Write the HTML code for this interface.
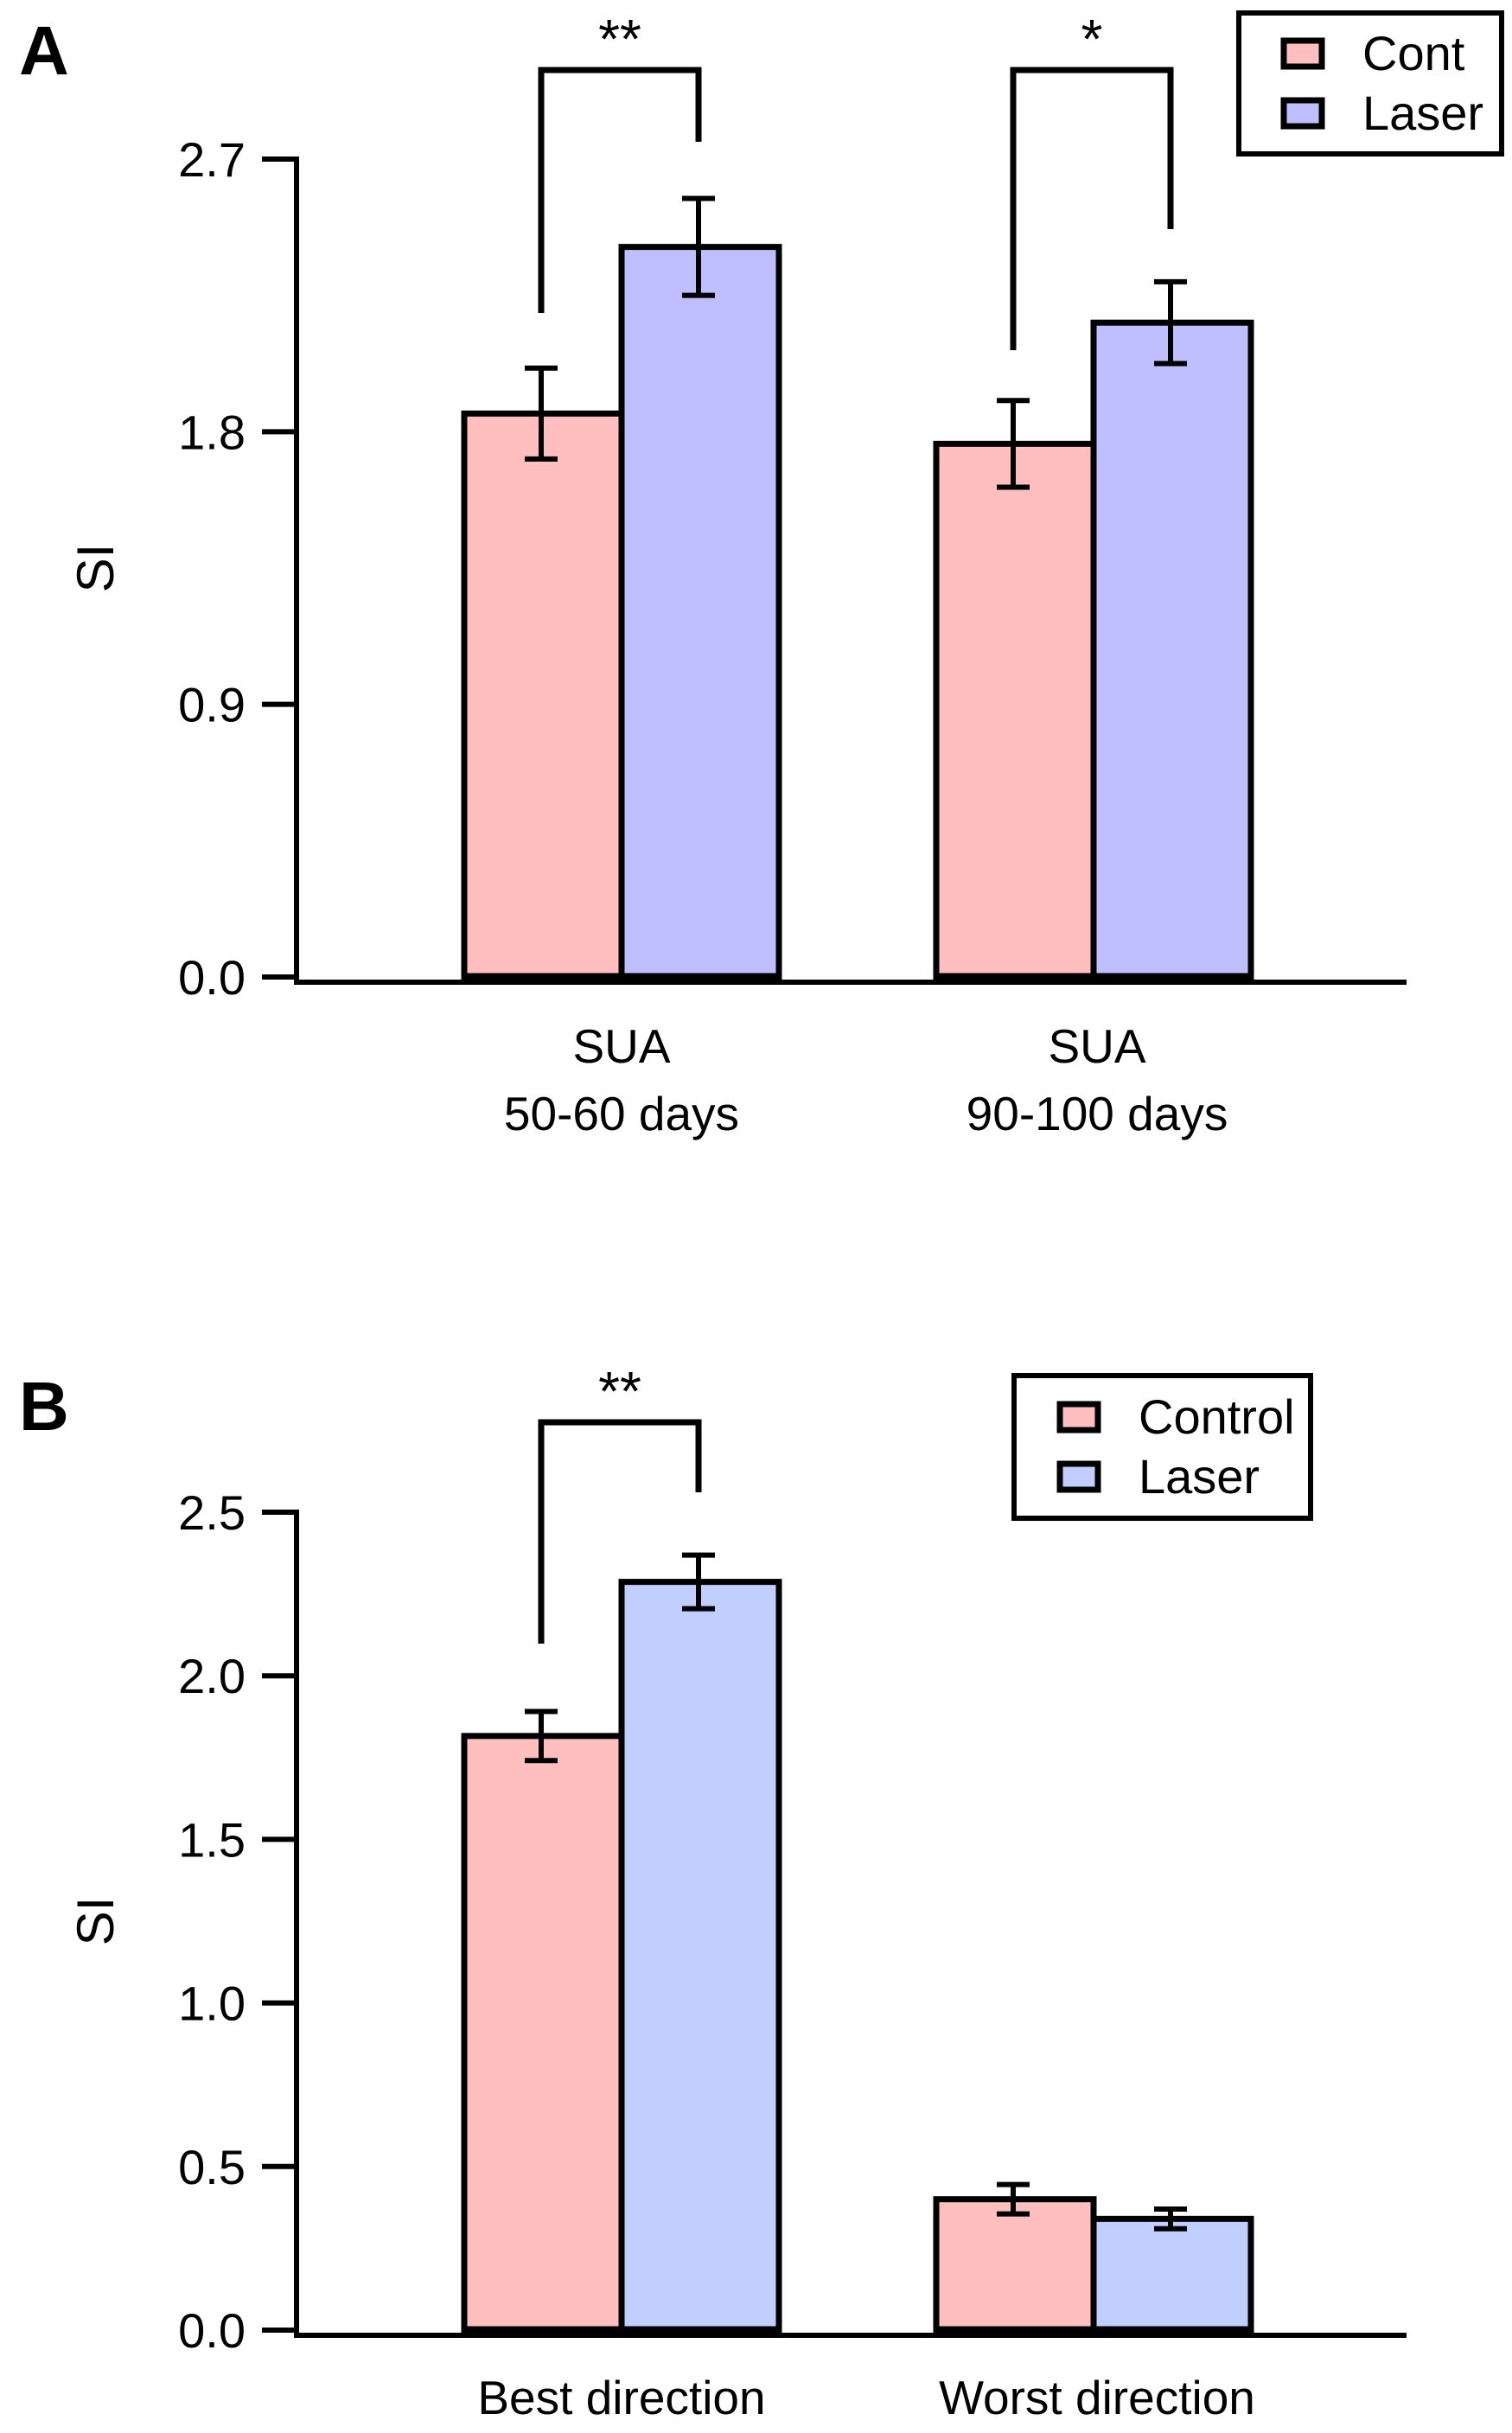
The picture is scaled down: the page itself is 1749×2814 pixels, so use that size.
<!DOCTYPE html>
<html><head><meta charset="utf-8">
<style>
html,body{margin:0;padding:0;background:#fff;}
svg{display:block;font-family:"Liberation Sans",Arial,sans-serif;}
</style></head>
<body>
<svg id="fig" width="1749" height="2814" viewBox="0 0 1749 2814" xmlns="http://www.w3.org/2000/svg">
<rect width="1749" height="2814" fill="#fff"/>
<g id="panelA" transform="translate(-8,-7)"></g>
<g id="panelB" transform="translate(-8,-8)"></g>
</svg>
<script>
// Panel A data
const catsA = [["SUA","50-60 days"],["SUA","90-100 days"]];
const contA = [1.86, 1.76];
const contErrA = [0.15, 0.143];
const laserA = [2.41, 2.16];
const laserErrA = [0.16, 0.135];
const ticksA = [0.0, 0.9, 1.8, 2.7];
const tickLabelsA = ["0.0","0.9","1.8","2.7"];
const legendA = ["Cont","Laser"];
const sigA = ["**","*"];
// Panel B data
const catsB = [["Best direction"],["Worst direction"]];
const contB = [1.816, 0.40];
const contErrB = [0.075, 0.045];
const laserB = [2.287, 0.34];
const laserErrB = [0.082, 0.03];
const ticksB = [0.0, 0.5, 1.0, 1.5, 2.0, 2.5];
const tickLabelsB = ["0.0","0.5","1.0","1.5","2.0","2.5"];
const legendB = ["Control","Laser"];
const sigB = ["**"];

const NS = "http://www.w3.org/2000/svg";
function mk(parent, tag, attrs, text){
  const e = document.createElementNS(NS, tag);
  for (const k in attrs) e.setAttribute(k, attrs[k]);
  if (text !== undefined) e.textContent = text;
  parent.appendChild(e);
  return e;
}

function drawPanel(g, cfg){
  const y = v => cfg.y0 - (v - 0) / (cfg.vmax) * (cfg.y0 - cfg.yTop);
  const axX = 351;
  const L = mk(g,'text',{x:30,y:cfg.letterY,'font-size':80,'font-weight':'bold',fill:'#000'},cfg.letter);
  
  
  const ya = mk(g,'line',{x1:axX,y1:y(cfg.vmax)-3,x2:axX,y2:cfg.axisY,stroke:'#000','stroke-width':6});
  
  
  const xa = mk(g,'line',{x1:axX-3,y1:cfg.axisY,x2:1635,y2:cfg.axisY,stroke:'#000','stroke-width':6});
  
  
  cfg.ticks.forEach((t,i)=>{
    const tl = mk(g,'line',{x1:311,y1:y(t),x2:axX,y2:y(t),stroke:'#000','stroke-width':6});
    
    
    const tx = mk(g,'text',{x:292,y:y(t)+20,'font-size':56,'text-anchor':'end',fill:'#000'},cfg.tickLabels[i]);
    
    
  });
  const yt = mk(g,'text',{x:0,y:0,'font-size':60,'text-anchor':'middle',transform:`translate(139,${cfg.siY}) rotate(-90)`,fill:'#000'},'SI');
  
  
  const groupLeft = [545, 1091];
  const bw = 182;
  for (let i=0;i<cfg.cont.length;i++){
    const series = [[cfg.cont[i],cfg.contErr[i],'#FFBFBF','bar-control'],[cfg.laser[i],cfg.laserErr[i],cfg.blue,'bar-laser']];
    series.forEach((s,j)=>{
      const x0 = groupLeft[i] + j*bw;
      const top = y(s[0]);
      const r = mk(g,'rect',{x:x0,y:top,width:bw,height:cfg.y0-top,fill:s[2],stroke:'#000','stroke-width':7});
      
      
      const cx = x0 + bw/2 - 2;
      const eg = mk(g,'g',{stroke:'#000','stroke-width':6});
      
      
      mk(eg,'line',{x1:cx,y1:y(s[0]+s[1]),x2:cx,y2:y(s[0]-s[1])});
      mk(eg,'line',{x1:cx-19,y1:y(s[0]+s[1]),x2:cx+19,y2:y(s[0]+s[1])});
      mk(eg,'line',{x1:cx-19,y1:y(s[0]-s[1]),x2:cx+19,y2:y(s[0]-s[1])});
    });
    const bl = mk(g,'line',{x1:groupLeft[i]-3,y1:cfg.y0,x2:groupLeft[i]+2*bw+3,y2:cfg.y0,stroke:'#000','stroke-width':9});
    
    
    const lines = cfg.cats[i];
    lines.forEach((ln,k)=>{
      const ct = mk(g,'text',{x:groupLeft[i]+bw+(i?4:0),y:cfg.catY+k*78,'font-size':55,'text-anchor':'middle',fill:'#000'},ln);
      
      
    });
  }
  cfg.sig.forEach((s,i)=>{
    const b = cfg.brackets[i];
    const lx = groupLeft[i]+bw/2-2, rx = groupLeft[i]+bw*1.5-2;
    const p = mk(g,'polyline',{points:`${lx},${b[1]} ${lx},${b[0]} ${rx},${b[0]} ${rx},${b[2]}`,fill:'none',stroke:'#000','stroke-width':7});
    
    
    const st = mk(g,'text',{x:(lx+rx)/2,y:b[0]-14,'font-size':64,'text-anchor':'middle',fill:'#000'},s);
    
    
  });
  const lg = cfg.leg;
  const lgG = mk(g,'g',{});
  
  
  mk(lgG,'rect',{x:lg.x,y:lg.y,width:lg.w,height:lg.h,fill:'#fff',stroke:'#000','stroke-width':6});
  cfg.legend.forEach((t,k)=>{
    const sy = lg.sy[k];
    const sw = mk(lgG,'rect',{x:lg.sx,y:sy,width:44,height:30,fill:k?cfg.blue:'#FFBFBF',stroke:'#000','stroke-width':7});
    
    
    const lt = mk(lgG,'text',{x:lg.tx,y:sy+34,'font-size':56,fill:'#000'},t);
    
    
  });
}

drawPanel(document.getElementById('panelA'),{
  letter:'A', letterY:93, y0:1137, yTop:191, vmax:2.7, axisY:1143,
  ticks:ticksA, tickLabels:tickLabelsA, siY:664, blue:'#BFBFFF',
  cont:contA, contErr:contErrA, laser:laserA, laserErr:laserErrA,
  cats:catsA, catY:1236, sig:sigA,
  brackets:[[88,369,171],[88,412,272]],
  legend:legendA, leg:{x:1441,y:22,w:304,h:163,sx:1493,sy:[54,123],tx:1584}
});
drawPanel(document.getElementById('panelB'),{
  letter:'B', letterY:1662, y0:2703, yTop:1757, vmax:2.5, axisY:2709,
  ticks:ticksB, tickLabels:tickLabelsB, siY:2230, blue:'#C0CFFF',
  cont:contB, contErr:contErrB, laser:laserB, laserErr:laserErrB,
  cats:catsB, catY:2800, sig:sigB,
  brackets:[[1653,1909,1734]],
  legend:legendB, leg:{x:1181,y:1599,w:343,h:165,sx:1234,sy:[1632,1701],tx:1325}
});
</script>
</body></html>
